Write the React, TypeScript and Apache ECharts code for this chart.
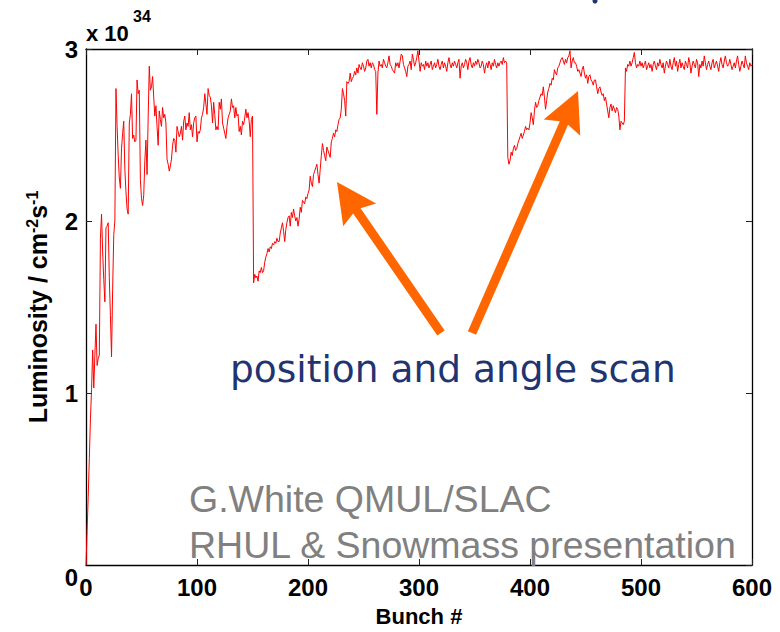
import React, { useEffect, useRef } from "react";
import * as echarts from "echarts";

// Luminosity per bunch (units of 1e34 cm^-2 s^-1), bunch 0..600
const luminosity: number[] = [
  0.00, 0.20, 0.40, 0.62, 0.85, 1.02, 1.25, 1.03, 1.22, 1.40,
  1.16, 1.20, 1.22, 1.90, 2.04, 1.82, 1.66, 1.53, 1.96, 1.97,
  1.99, 1.67, 1.45, 1.21, 1.60, 1.92, 2.00, 2.77, 2.55, 2.38,
  2.25, 2.19, 2.42, 2.51, 2.58, 2.30, 2.17, 2.07, 2.04, 2.57,
  2.62, 2.74, 2.48, 2.50, 2.46, 2.47, 2.82, 2.74, 2.76, 2.24,
  2.13, 2.09, 2.15, 2.35, 2.47, 2.27, 2.60, 2.90, 2.76, 2.78,
  2.84, 2.72, 2.61, 2.67, 2.55, 2.44, 2.64, 2.59, 2.55, 2.66,
  2.60, 2.62, 2.57, 2.36, 2.33, 2.29, 2.32, 2.36, 2.44, 2.48,
  2.47, 2.40, 2.55, 2.52, 2.49, 2.51, 2.55, 2.47, 2.58, 2.61,
  2.53, 2.57, 2.55, 2.63, 2.53, 2.56, 2.49, 2.57, 2.60, 2.61,
  2.46, 2.52, 2.51, 2.53, 2.60, 2.62, 2.66, 2.74, 2.68, 2.62,
  2.77, 2.73, 2.72, 2.67, 2.57, 2.69, 2.62, 2.53, 2.55, 2.53,
  2.69, 2.65, 2.71, 2.57, 2.54, 2.51, 2.48, 2.55, 2.60, 2.62,
  2.64, 2.71, 2.66, 2.67, 2.60, 2.66, 2.61, 2.62, 2.52, 2.55,
  2.50, 2.58, 2.56, 2.60, 2.65, 2.60, 2.63, 2.58, 2.49, 2.59,
  2.61, 1.64, 1.69, 1.67, 1.68, 1.65, 1.71, 1.70, 1.73, 1.70,
  1.71, 1.76, 1.79, 1.81, 1.84, 1.82, 1.85, 1.84, 1.87, 1.86,
  1.88, 1.87, 1.90, 1.88, 1.88, 1.93, 1.96, 1.99, 1.94, 1.88,
  1.95, 1.99, 2.02, 2.03, 1.97, 2.05, 2.02, 2.07, 2.03, 2.00,
  2.02, 1.97, 2.01, 2.08, 2.05, 2.12, 2.11, 2.10, 2.14, 2.13,
  2.16, 2.18, 2.26, 2.22, 2.20, 2.27, 2.29, 2.31, 2.33, 2.27,
  2.22, 2.30, 2.38, 2.45, 2.41, 2.38, 2.35, 2.43, 2.41, 2.39,
  2.37, 2.46, 2.48, 2.51, 2.49, 2.53, 2.52, 2.56, 2.59, 2.60,
  2.65, 2.77, 2.74, 2.70, 2.61, 2.81, 2.80, 2.81, 2.86, 2.81,
  2.83, 2.84, 2.87, 2.85, 2.89, 2.86, 2.91, 2.89, 2.88, 2.92,
  2.90, 2.87, 2.89, 2.93, 2.94, 2.90, 2.92, 2.89, 2.92, 2.91,
  2.88, 2.87, 2.62, 2.86, 2.93, 2.90, 2.91, 2.89, 2.94, 2.92,
  2.90, 2.89, 2.92, 2.96, 2.91, 2.90, 2.88, 2.87, 2.86, 2.92,
  2.90, 2.92, 2.89, 2.93, 2.97, 2.96, 2.91, 2.89, 2.87, 2.84,
  2.90, 2.91, 2.93, 2.88, 2.97, 2.94, 2.90, 2.92, 2.95, 2.99,
  2.93, 2.87, 2.92, 2.90, 2.91, 2.88, 2.93, 2.90, 2.92, 2.89,
  2.91, 2.93, 2.88, 2.90, 2.92, 2.89, 2.91, 2.94, 2.90, 2.88,
  2.91, 2.93, 2.89, 2.92, 2.90, 2.87, 2.92, 2.95, 2.91, 2.89,
  2.92, 2.90, 2.93, 2.91, 2.89, 2.92, 2.94, 2.83, 2.90, 2.92,
  2.89, 2.91, 2.94, 2.92, 2.88, 2.93, 2.95, 2.91, 2.89, 2.92,
  2.90, 2.93, 2.91, 2.94, 2.92, 2.89, 2.90, 2.93, 2.91, 2.86,
  2.90, 2.92, 2.89, 2.93, 2.91, 2.88, 2.92, 2.90, 2.94, 2.91,
  2.89, 2.92, 2.90, 2.92, 2.93, 2.91, 2.95, 2.92, 2.93, 2.92,
  2.37, 2.33, 2.35, 2.40, 2.38, 2.42, 2.44, 2.41, 2.42, 2.45,
  2.47, 2.49, 2.51, 2.48, 2.50, 2.52, 2.55, 2.53, 2.54, 2.53,
  2.57, 2.63, 2.60, 2.56, 2.64, 2.69, 2.66, 2.67, 2.70, 2.72,
  2.74, 2.73, 2.78, 2.72, 2.65, 2.70, 2.75, 2.77, 2.80, 2.79,
  2.83, 2.82, 2.88, 2.86, 2.85, 2.89, 2.90, 2.92, 2.94, 2.95,
  2.93, 2.91, 2.94, 2.92, 2.95, 2.96, 2.99, 2.89, 2.93, 2.95,
  2.92, 2.92, 2.90, 2.87, 2.88, 2.86, 2.84, 2.88, 2.90, 2.86,
  2.83, 2.85, 2.80, 2.84, 2.85, 2.82, 2.81, 2.79, 2.82, 2.82,
  2.78, 2.74, 2.77, 2.78, 2.75, 2.73, 2.74, 2.70, 2.72, 2.68,
  2.64, 2.60, 2.66, 2.68, 2.64, 2.67, 2.65, 2.63, 2.66, 2.65,
  2.61, 2.53, 2.58, 2.57, 2.56, 2.58, 2.89, 2.87, 2.91, 2.90,
  2.93, 2.90, 2.92, 2.95, 2.98, 2.92, 2.89, 2.91, 2.90, 2.93,
  2.90, 2.92, 2.89, 2.91, 2.93, 2.88, 2.90, 2.92, 2.89, 2.91,
  2.87, 2.91, 2.93, 2.90, 2.88, 2.92, 2.90, 2.94, 2.91, 2.89,
  2.92, 2.86, 2.90, 2.93, 2.91, 2.89, 2.94, 2.90, 2.88, 2.92,
  2.95, 2.90, 2.93, 2.87, 2.91, 2.94, 2.89, 2.92, 2.90, 2.88,
  2.93, 2.91, 2.89, 2.95, 2.92, 2.86, 2.90, 2.93, 2.91, 2.89,
  2.94, 2.92, 2.84, 2.91, 2.89, 2.93, 2.90, 2.96, 2.92, 2.88,
  2.91, 2.93, 2.90, 2.88, 2.92, 2.94, 2.89, 2.91, 2.93, 2.90,
  2.87, 2.92, 2.95, 2.91, 2.89, 2.93, 2.96, 2.92, 2.90, 2.91,
  2.94, 2.91, 2.88, 2.90, 2.92, 2.89, 2.93, 2.96, 2.91, 2.87,
  2.90, 2.93, 2.91, 2.89, 2.96, 2.92, 2.90, 2.88, 2.92, 2.90,
  2.91,
];

const X_RANGE = { min: 0, max: 600, step: 100 };
const Y_RANGE = { min: 0, max: 3, step: 1 };
const xAxisTitle = "Bunch #";
const exponentBase = "x 10";
const exponentPower = "34";
const scanLabel = "position and angle scan";
const creditLines = ["G.White QMUL/SLAC", "RHUL & Snowmass presentation"];

const SANS = "Arial, 'Liberation Sans', Helvetica, sans-serif";
const HAND = "'Comic Sans MS', 'DejaVu Sans', sans-serif";
const ORANGE = "#ff6600";
const NAVY = "#1f3471";

type Pt = [number, number];

// Block arrow outline: straight shaft ending in a triangular head at `tip`.
function arrowPoints(tail: Pt, tip: Pt, shaft: number, headLen: number, headHalf: number, notch: number): Pt[] {
  const dx = tip[0] - tail[0];
  const dy = tip[1] - tail[1];
  const len = Math.hypot(dx, dy);
  const ux = dx / len;
  const uy = dy / len;
  const px = -uy;
  const py = ux;
  const back: Pt = [tip[0] - ux * headLen, tip[1] - uy * headLen];
  const neck: Pt = [tip[0] - ux * (headLen - notch), tip[1] - uy * (headLen - notch)];
  const s = shaft / 2;
  return [
    [tail[0] + px * s, tail[1] + py * s],
    [neck[0] + px * s, neck[1] + py * s],
    [back[0] + px * headHalf, back[1] + py * headHalf],
    tip,
    [back[0] - px * headHalf, back[1] - py * headHalf],
    [neck[0] - px * s, neck[1] - py * s],
    [tail[0] - px * s, tail[1] - py * s],
  ];
}

export default function App() {
  const ref = useRef<HTMLDivElement>(null);

  useEffect(() => {
    if (!ref.current) return;
    const chart = echarts.init(ref.current, undefined, { renderer: "svg" });

    const seriesData = luminosity.map((v, i) => [i, v]);

    const frameLine = { show: true, onZero: false, lineStyle: { color: "#000", width: 1.3 } };
    const innerTick = { show: true, inside: true, length: 6, lineStyle: { color: "#222", width: 1 } };
    const tickFont = { color: "#000", fontWeight: "bold" as const, fontSize: 24, fontFamily: SANS };

    chart.setOption({
      animation: false,
      backgroundColor: "#ffffff",
      grid: { left: 86, right: 28, top: 49, bottom: 56, containLabel: false },
      xAxis: [
        {
          type: "value",
          position: "bottom",
          min: X_RANGE.min,
          max: X_RANGE.max,
          interval: X_RANGE.step,
          axisLine: frameLine,
          axisTick: innerTick,
          axisLabel: { ...tickFont, margin: 10 },
          splitLine: { show: false },
          name: xAxisTitle,
          nameLocation: "middle",
          nameGap: 40,
          nameTextStyle: { color: "#000", fontWeight: "bold", fontSize: 22, fontFamily: SANS },
        },
        {
          type: "value",
          position: "top",
          min: X_RANGE.min,
          max: X_RANGE.max,
          interval: X_RANGE.step,
          axisLine: frameLine,
          axisTick: innerTick,
          axisLabel: { show: false },
          splitLine: { show: false },
        },
      ],
      yAxis: [
        {
          type: "value",
          position: "left",
          min: Y_RANGE.min,
          max: Y_RANGE.max,
          interval: Y_RANGE.step,
          axisLine: frameLine,
          axisTick: innerTick,
          // the zero label sits in the corner and is drawn separately below
          axisLabel: { ...tickFont, margin: 8, showMinLabel: false },
          splitLine: { show: false },
          name: "{a|Luminosity / cm}{b|-2}{a|s}{b|-1}",
          nameLocation: "middle",
          nameGap: 35,
          nameTextStyle: {
            color: "#000",
            fontFamily: SANS,
            rich: {
              a: { fontSize: 25, fontWeight: "bold", fontFamily: SANS, color: "#000", lineHeight: 27 },
              b: { fontSize: 16, fontWeight: "bold", fontFamily: SANS, color: "#000", lineHeight: 16, verticalAlign: "top" },
            },
          },
        },
        {
          type: "value",
          position: "right",
          min: Y_RANGE.min,
          max: Y_RANGE.max,
          interval: Y_RANGE.step,
          axisLine: frameLine,
          axisTick: innerTick,
          axisLabel: { show: false },
          splitLine: { show: false },
        },
      ],
      series: [
        {
          type: "line",
          xAxisIndex: 0,
          yAxisIndex: 0,
          data: seriesData,
          symbol: "none",
          showSymbol: false,
          lineStyle: { color: "#ff0000", width: 1 },
          z: 3,
        },
      ],
      graphic: [
        {
          type: "text",
          x: 78,
          y: 577,
          style: { text: String(Y_RANGE.min), fill: "#000", fontSize: 24, fontWeight: "bold", fontFamily: SANS, align: "right", verticalAlign: "middle" },
        },
        {
          type: "text",
          x: 86,
          y: 33,
          style: { text: exponentBase, fill: "#000", fontSize: 22, fontWeight: "bold", fontFamily: SANS, align: "left", verticalAlign: "middle" },
        },
        {
          type: "text",
          x: 133,
          y: 16.5,
          style: { text: exponentPower, fill: "#000", fontSize: 16, fontWeight: "bold", fontFamily: SANS, align: "left", verticalAlign: "middle" },
        },
        {
          type: "polygon",
          shape: { points: arrowPoints([441, 333], [337, 182], 9, 40, 20, 5) },
          style: { fill: ORANGE },
          z: 10,
        },
        {
          type: "polygon",
          shape: { points: arrowPoints([472, 333], [578, 91], 9, 40, 20, 5) },
          style: { fill: ORANGE },
          z: 10,
        },
        {
          type: "text",
          x: 230,
          y: 369,
          style: { text: scanLabel, fill: NAVY, fontSize: 37.5, fontFamily: HAND, align: "left", verticalAlign: "middle" },
          z: 10,
        },
        {
          type: "text",
          x: 189,
          y: 499,
          style: { text: creditLines[0], fill: "#808080", fontSize: 37.5, fontFamily: SANS, align: "left", verticalAlign: "middle" },
          z: 10,
        },
        {
          type: "text",
          x: 189,
          y: 545,
          style: { text: creditLines[1], fill: "#808080", fontSize: 37.5, fontFamily: SANS, align: "left", verticalAlign: "middle" },
          z: 10,
        },
        {
          type: "circle",
          shape: { cx: 595, cy: 1, r: 2.5 },
          style: { fill: NAVY },
        },
      ],
    });

    return () => chart.dispose();
  }, []);

  return (
    <div
      ref={ref}
      style={{ position: "absolute", left: 0, top: 0, width: 780, height: 632, background: "#fff" }}
    />
  );
}
